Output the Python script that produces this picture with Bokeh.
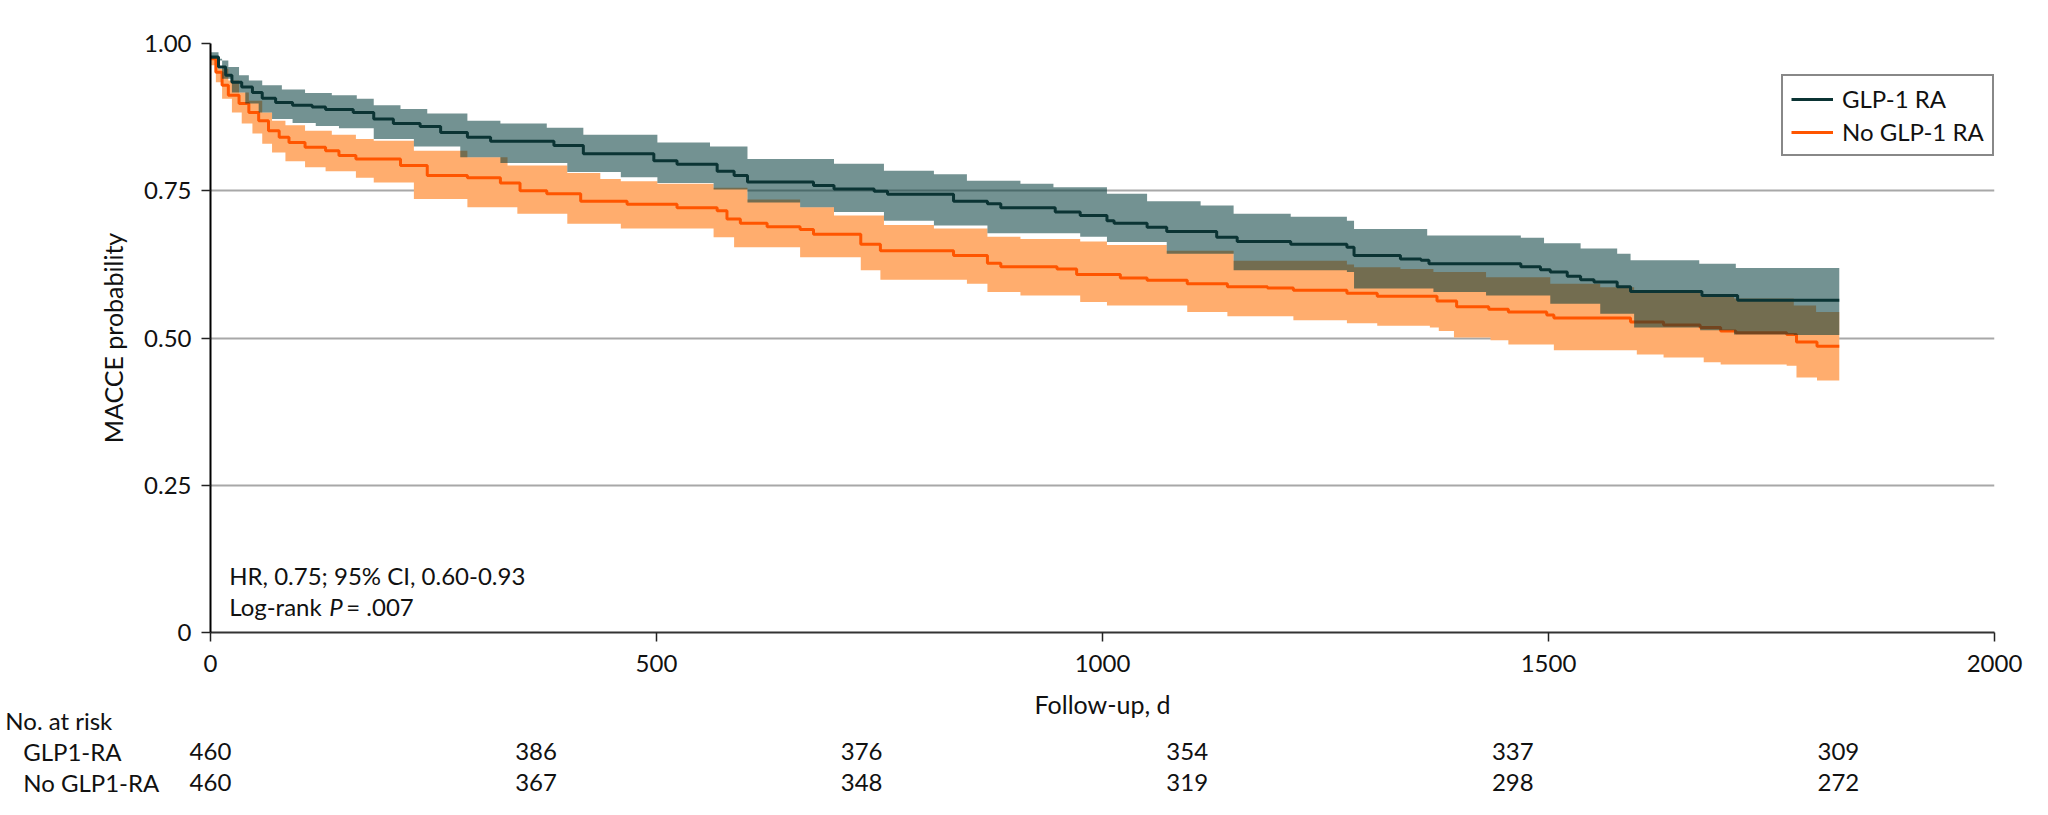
import numpy as np
from bokeh.plotting import figure
from bokeh.models import (ColumnDataSource, Label, Legend, LegendItem,
                          FixedTicker, Range1d, CustomJSTickFormatter)
from bokeh.core.properties import value
from bokeh.embed import file_html
from bokeh.resources import INLINE

FONT = "Lato"
TXT = "#111111"

# ---------------- data ----------------
glp_t = [0, 9, 17, 24, 35, 47, 58, 73, 92, 114, 129, 160, 183, 205, 235, 258, 288, 314, 385,
         418, 497, 523, 568, 587, 602, 676, 699, 744, 759, 833, 871, 886, 947, 975, 1005,
         1013, 1050, 1072, 1128, 1151, 1211, 1274, 1282, 1334, 1357, 1366, 1469, 1491, 1502,
         1521, 1536, 1551, 1577, 1592, 1672, 1712, 1826]
glp_s = [0.977, 0.960, 0.946, 0.934, 0.926, 0.917, 0.907, 0.900, 0.895, 0.892, 0.888, 0.883,
         0.872, 0.864, 0.859, 0.849, 0.841, 0.834, 0.827, 0.813, 0.801, 0.795, 0.783, 0.776,
         0.765, 0.759, 0.753, 0.749, 0.744, 0.732, 0.728, 0.721, 0.714, 0.708, 0.699, 0.695,
         0.688, 0.681, 0.671, 0.664, 0.659, 0.654, 0.640, 0.634, 0.632, 0.626, 0.621, 0.616,
         0.612, 0.605, 0.599, 0.595, 0.587, 0.579, 0.572, 0.564, 0.564]

glp_hi_t = [0, 9, 20, 32, 43, 58, 80, 106, 136, 164, 183, 213, 243, 288, 325, 377, 418, 501,
            560, 602, 699, 755, 811, 848, 908, 945, 1005, 1050, 1110, 1147, 1211, 1274, 1282,
            1364, 1469, 1495, 1536, 1577, 1592, 1669, 1710, 1826]
glp_hi = [0.985, 0.971, 0.960, 0.946, 0.937, 0.929, 0.922, 0.916, 0.912, 0.906, 0.895, 0.889,
          0.881, 0.869, 0.864, 0.857, 0.845, 0.832, 0.825, 0.804, 0.796, 0.784, 0.778, 0.767,
          0.762, 0.756, 0.745, 0.732, 0.725, 0.711, 0.706, 0.699, 0.685, 0.674, 0.670, 0.661,
          0.652, 0.643, 0.632, 0.626, 0.619, 0.619]

glp_lo_t = [0, 13, 24, 39, 54, 69, 92, 118, 144, 183, 228, 280, 325, 400, 460, 501, 564, 602,
            661, 699, 755, 811, 871, 975, 1005, 1072, 1147, 1274, 1282, 1371, 1430, 1502,
            1558, 1596, 1670, 1708, 1775, 1826]
glp_lo = [0.974, 0.940, 0.917, 0.898, 0.883, 0.872, 0.865, 0.860, 0.856, 0.838, 0.825, 0.807,
          0.797, 0.782, 0.773, 0.763, 0.752, 0.730, 0.722, 0.714, 0.699, 0.691, 0.678, 0.672,
          0.663, 0.643, 0.615, 0.612, 0.584, 0.578, 0.572, 0.558, 0.541, 0.518, 0.513, 0.506,
          0.505, 0.505]

no_t = [0, 6, 13, 20, 32, 43, 54, 65, 77, 88, 106, 129, 144, 163, 213, 243, 288, 325, 347,
        377, 415, 467, 523, 568, 579, 594, 624, 661, 676, 729, 751, 833, 871, 886, 949, 971,
        1020, 1050, 1095, 1140, 1185, 1214, 1274, 1308, 1375, 1397, 1433, 1455, 1498, 1506,
        1592, 1629, 1670, 1693, 1710, 1767, 1778, 1801, 1826]
no_s = [0.974, 0.951, 0.929, 0.912, 0.898, 0.883, 0.869, 0.852, 0.841, 0.832, 0.824, 0.818,
        0.810, 0.804, 0.793, 0.776, 0.772, 0.763, 0.750, 0.745, 0.732, 0.727, 0.721, 0.716,
        0.702, 0.695, 0.689, 0.684, 0.676, 0.659, 0.648, 0.640, 0.627, 0.621, 0.617, 0.608,
        0.602, 0.598, 0.592, 0.587, 0.585, 0.581, 0.576, 0.571, 0.563, 0.553, 0.549, 0.544,
        0.539, 0.534, 0.527, 0.522, 0.518, 0.512, 0.509, 0.506, 0.493, 0.486, 0.486]

no_hi_t = [0, 9, 20, 32, 43, 58, 69, 84, 106, 136, 163, 183, 228, 288, 333, 400, 437, 460,
           501, 564, 602, 661, 699, 755, 811, 871, 908, 975, 1005, 1072, 1147, 1274, 1282,
           1334, 1371, 1430, 1502, 1558, 1596, 1670, 1708, 1775, 1800, 1826]
no_hi = [0.977, 0.957, 0.937, 0.917, 0.903, 0.883, 0.869, 0.861, 0.852, 0.845, 0.838, 0.835,
         0.818, 0.807, 0.793, 0.780, 0.770, 0.766, 0.762, 0.755, 0.735, 0.722, 0.708, 0.692,
         0.686, 0.672, 0.668, 0.664, 0.658, 0.648, 0.631, 0.625, 0.620, 0.617, 0.612, 0.603,
         0.592, 0.586, 0.581, 0.572, 0.567, 0.555, 0.544, 0.544]

no_lo_t = [0, 6, 13, 24, 35, 47, 58, 69, 84, 106, 129, 163, 183, 228, 288, 344, 400, 460,
           564, 587, 661, 729, 751, 848, 871, 908, 975, 1005, 1095, 1140, 1214, 1274, 1308,
           1367, 1377, 1394, 1435, 1455, 1506, 1599, 1629, 1674, 1693, 1767, 1778, 1801, 1826]
no_lo = [0.963, 0.934, 0.906, 0.883, 0.864, 0.847, 0.830, 0.815, 0.800, 0.790, 0.783, 0.772,
         0.764, 0.736, 0.722, 0.711, 0.694, 0.686, 0.671, 0.654, 0.637, 0.615, 0.599, 0.592,
         0.578, 0.572, 0.561, 0.555, 0.544, 0.537, 0.530, 0.525, 0.521, 0.518, 0.512, 0.501,
         0.496, 0.489, 0.479, 0.472, 0.467, 0.459, 0.455, 0.453, 0.433, 0.428, 0.428]

x_ticks = [0, 500, 1000, 1500, 2000]
y_ticks = [0, 0.25, 0.5, 0.75, 1.0]

risk_days = [0, 365, 730, 1095, 1460, 1825]
risk_glp = [460, 386, 376, 354, 337, 309]
risk_no = [460, 367, 348, 319, 298, 272]
risk_groups = ["GLP1-RA", "No GLP1-RA"]
series_names = ["GLP-1 RA", "No GLP-1 RA"]


def band(t_hi, hi, t_lo, lo):
    grid = np.union1d(t_hi, t_lo)
    h = np.asarray(hi)[np.searchsorted(t_hi, grid, side="right") - 1]
    l = np.asarray(lo)[np.searchsorted(t_lo, grid, side="right") - 1]
    return grid, l, h


# ---------------- layout ----------------
W = 2030
LEFT, RIGHT, TOP, FRAME_H, BOTTOM = 210, 36, 43, 589, 52
H1 = TOP + FRAME_H + BOTTOM
H2 = 118
X0, X1 = 0, 2000
px_per_day = (W - LEFT - RIGHT) / (X1 - X0)

p = figure(width=W, height=H1, output_backend="svg", toolbar_location=None,
           x_range=Range1d(X0, X1), y_range=Range1d(0, 1),
           min_border_left=LEFT, min_border_right=RIGHT, min_border_top=TOP,
           min_border_bottom=BOTTOM)
p.outline_line_color = None
p.background_fill_color = "white"

# bands and curves
ox, ol, oh = band(no_hi_t, no_hi, no_lo_t, no_lo)
p.varea_step(x=ox, y1=ol, y2=oh, step_mode="after", fill_color="#FFAD6E", fill_alpha=1.0)
r_no = p.step(no_t, no_s, mode="after", line_color="#FF5500", line_width=3)
gx, gl, gh = band(glp_hi_t, glp_hi, glp_lo_t, glp_lo)
p.varea_step(x=gx, y1=gl, y2=gh, step_mode="after", fill_color="#003838", fill_alpha=0.55)
r_glp = p.step(glp_t, glp_s, mode="after", line_color="#0B3434", line_width=3)

# axes
for ax in (p.xaxis, p.yaxis):
    ax.major_label_text_font = FONT
    ax.major_label_text_font_size = "24px"
    ax.major_label_text_color = TXT
    ax.axis_label_text_font = FONT
    ax.axis_label_text_font_size = "25px"
    ax.axis_label_text_font_style = "normal"
    ax.axis_label_text_color = TXT
    ax.minor_tick_line_color = None
    ax.major_tick_in = 0
    ax.major_tick_out = 9
    ax.major_tick_line_color = "#222222"
    ax.major_tick_line_width = 1.5
    ax.axis_line_width = 2

p.xaxis.ticker = FixedTicker(ticks=x_ticks)
p.yaxis.ticker = FixedTicker(ticks=y_ticks)
p.yaxis.formatter = CustomJSTickFormatter(code="return tick == 0 ? '0' : tick.toFixed(2);")
p.yaxis.axis_label = "MACCE probability"
p.xaxis.axis_line_color = "#333333"
p.yaxis.axis_line_color = "#000000"
p.xaxis.major_label_standoff = 13
p.yaxis.major_label_standoff = 10
p.yaxis.axis_label_standoff = 13

p.xgrid.visible = False
p.ygrid.grid_line_color = "#A8A8A8"
p.ygrid.grid_line_width = 2

# legend
legend = Legend(items=[LegendItem(label=series_names[0], renderers=[r_glp]),
                       LegendItem(label=series_names[1], renderers=[r_no])],
                location=(1571, 476), orientation="vertical")
legend.label_text_font = FONT
legend.label_text_font_size = "24px"
legend.label_text_color = TXT
legend.border_line_color = "#111111"
legend.border_line_width = 2
legend.background_fill_alpha = 1.0
legend.padding = 8
legend.spacing = 4
legend.margin = 0
legend.glyph_width = 42
legend.glyph_height = 28
legend.label_height = 28
legend.label_standoff = 9
p.add_layout(legend, "center")


def lab(x, y, text, **kw):
    l = Label(x=x, y=y, text=text, text_font=FONT, text_font_size="24px",
              text_color=TXT, text_baseline="middle", **kw)
    p.add_layout(l)
    return l


lab(21, 0.097, "HR, 0.75; 95% CI, 0.60-0.93")
lab(21, 0.044, "Log-rank")
lab(21, 0.044, "P", x_offset=100, text_font_style="italic")
lab(21, 0.044, "= .007", x_offset=117)

# ---------------- x-axis title + number-at-risk table (same day scale) ----------------
t = figure(width=W, height=H2, output_backend="svg", toolbar_location=None,
           x_range=Range1d(X0 - LEFT / px_per_day, X1 + RIGHT / px_per_day),
           y_range=Range1d(H2, 0), min_border=0,
           x_axis_location=None, y_axis_location=None)
t.outline_line_color = None
t.xgrid.visible = False
t.ygrid.visible = False

t.text(x=[(X0 + X1) / 2], y=[19], text=["Follow-up, d"], text_font=value(FONT),
       text_font_size="25px", text_color=TXT, text_align="center", text_baseline="middle")
t.text(x=[X0 - 230], y=[36], text=["No. at risk"], text_font=value(FONT),
       text_font_size="24px", text_color=TXT, text_align="left", text_baseline="middle")
t.text(x=[X0 - 210, X0 - 210], y=[67, 98], text=risk_groups, text_font=value(FONT),
       text_font_size="24px", text_color=TXT, text_align="left", text_baseline="middle")

src = ColumnDataSource(dict(x=risk_days, g=[str(v) for v in risk_glp],
                            n=[str(v) for v in risk_no],
                            yg=[67] * len(risk_days), yn=[98] * len(risk_days)))
for col, ycol in (("g", "yg"), ("n", "yn")):
    t.text(x="x", y=ycol, text=col, source=src, text_font=value(FONT),
           text_font_size="24px", text_color=TXT, text_align="center",
           text_baseline="middle")

# two separate roots stacked on the page (no frame alignment between them)
open("out.html", "w").write(file_html([p, t], INLINE))
